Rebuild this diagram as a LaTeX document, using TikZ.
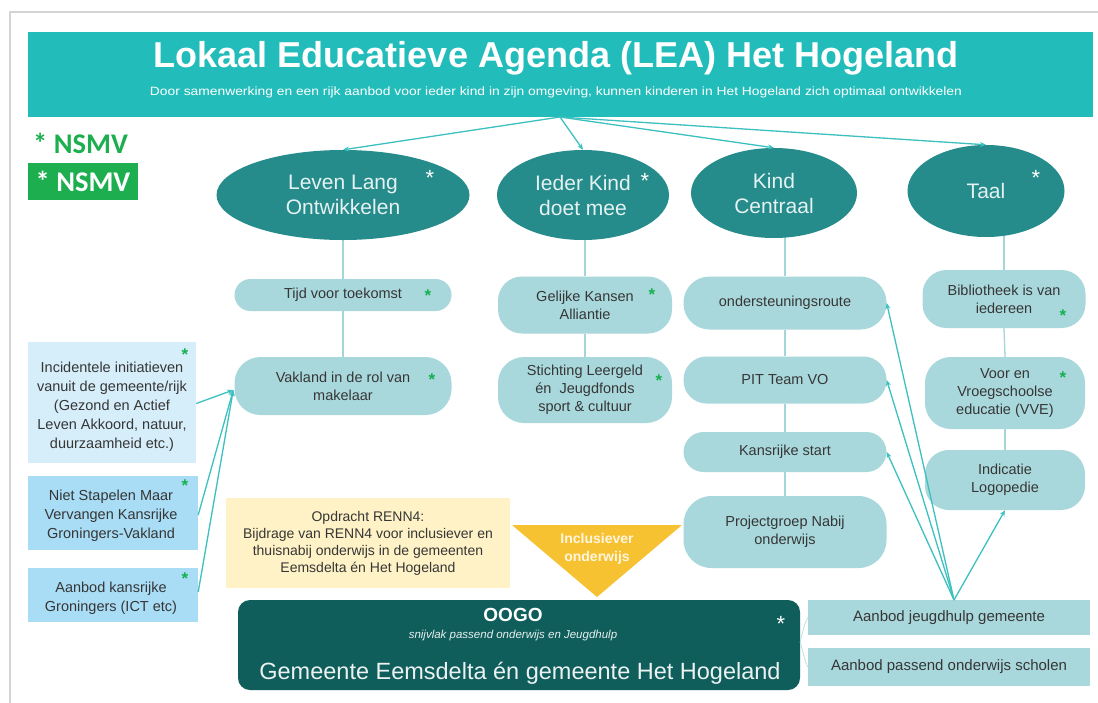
\documentclass[tikz,border=0pt]{standalone}
\usepackage{fontspec}
\setmainfont{Liberation Sans}
\newfontfamily\legendfont{Carlito}
\usetikzlibrary{shapes.geometric,arrows.meta,calc}
\definecolor{titlebar}{HTML}{22BDBA}
\definecolor{ellfill}{HTML}{268B8B}
\definecolor{elltext}{HTML}{E4F2F2}
\definecolor{boxfill}{HTML}{A9D8DC}
\definecolor{boxtext}{HTML}{363636}
\definecolor{starg}{HTML}{14B050}
\definecolor{legendg}{HTML}{1DAE4F}
\definecolor{linec}{HTML}{3CC0C0}
\definecolor{vlinec}{HTML}{A3D6D9}
\definecolor{paleblue}{HTML}{D6EEFA}
\definecolor{midblue}{HTML}{A9DCF5}
\definecolor{paleyellow}{HTML}{FFF2C6}
\definecolor{triyellow}{HTML}{F7C232}
\definecolor{oogo}{HTML}{0F5E5B}
\definecolor{framegray}{HTML}{D4D4D4}
\pgfdeclarelayer{bottom}
\pgfdeclarelayer{background}
\pgfsetlayers{bottom,background,main}
\begin{document}
\begin{tikzpicture}[x=1pt,y=-1pt,
  ell/.style={ellipse, fill=ellfill, draw=none, inner sep=0pt, text=elltext, align=center, font=\fontsize{21}{25}\selectfont},
  lbox/.style={fill=boxfill, draw=none, inner sep=0pt, align=center, text=boxtext, font=\fontsize{14.5}{18}\selectfont},
  sbox/.style={draw=none, inner sep=0pt, align=center, text=boxtext, font=\fontsize{14.5}{19}\selectfont},
  gstar/.style={text=starg, inner sep=0pt, font=\fontsize{17}{17}\selectfont\bfseries},
  wstar/.style={text=white, inner sep=0pt, font=\fontsize{22}{22}\selectfont},
  conn/.style={draw=linec, line width=1.3pt, -{Stealth[length=6pt,width=5pt]}},
  vline/.style={draw=vlinec, line width=1.3pt},
  plain/.style={inner sep=0pt, align=center}
]
\useasboundingbox (0,0) rectangle (1098,702);
\begin{pgfonlayer}{bottom}
\fill[white] (0,0) rectangle (1098,702);
% card frame
\draw[framegray, line width=1.8pt] (10,720) -- (10,12) -- (1110,12);
\end{pgfonlayer}

% title bar
\node[fill=titlebar, minimum width=1065pt, minimum height=85pt, inner sep=0pt] (title) at (560.5,74.5) {};
\node[plain, text=white, font=\fontsize{36}{36}\selectfont\bfseries] (titletext) at (556,58) {Lokaal Educatieve Agenda (LEA) Het Hogeland};
\node[plain, text=white, font=\fontsize{12}{12}\selectfont] (subtitle) at (556,92) {\resizebox{812pt}{\height}{Door samenwerking en een rijk aanbod voor ieder kind in zijn omgeving, kunnen kinderen in Het Hogeland zich optimaal ontwikkelen}};
\coordinate (T) at (560,117);

% legend
\node[plain, text=legendg, font=\legendfont\fontsize{28.5}{28}\selectfont\bfseries, anchor=west] (leg1) at (33,143) {* NSMV};
\node[fill=legendg, text=white, font=\legendfont\fontsize{28.5}{28}\selectfont\bfseries, minimum width=110pt, minimum height=37pt, inner sep=0pt] (leg2) at (83,181.5) {* NSMV};

% ellipses
\node[ell, minimum width=253pt, minimum height=90pt] (E1) at (343,195) {Leven Lang\\Ontwikkelen};
\node[ell, minimum width=172pt, minimum height=90pt] (E2) at (583,195) {Ieder Kind\\doet mee};
\node[ell, minimum width=166pt, minimum height=90pt] (E3) at (774,193) {Kind\\Centraal};
\node[ell, minimum width=157pt, minimum height=92pt] (E4) at (986,191) {Taal};
\node[wstar] (s1) at (430,178) {*};
\node[wstar] (s2) at (645,181) {*};
\node[wstar] (s4) at (1036,178) {*};

\draw[conn] (T) -- (E1.north);
\draw[conn] (T) -- (E2.north);
\draw[conn] (T) -- (E3.north);
\draw[conn] (T) -- (E4.north);

% column 1
\node[lbox, minimum width=217pt, minimum height=32pt, rounded corners=16pt] (B1a) at (343,295) {Tijd voor toekomst};
\node[lbox, minimum width=217pt, minimum height=58pt, rounded corners=26pt] (B1b) at (343,386) {Vakland in de rol van\\makelaar};
\node[gstar] (g1a) at (428,296) {*};
\node[gstar] (g1b) at (432,380) {*};
% column 2
\node[lbox, minimum width=174pt, minimum height=57pt, rounded corners=24pt] (B2a) at (585,305) {Gelijke Kansen\\Alliantie};
\node[lbox, minimum width=174pt, minimum height=66pt, rounded corners=26pt] (B2b) at (585,390) {Stichting Leergeld\\én\ \ Jeugdfonds\\sport \& cultuur};
\node[gstar] (g2a) at (652,295) {*};
\node[gstar] (g2b) at (659,381) {*};
% column 3
\node[lbox, minimum width=203pt, minimum height=53pt, rounded corners=26pt] (B3a) at (785,303) {ondersteuningsroute};
\node[lbox, minimum width=203pt, minimum height=47pt, rounded corners=23pt] (B3b) at (785,380) {PIT Team VO};
\node[lbox, minimum width=203pt, minimum height=40pt, rounded corners=20pt] (B3c) at (785,452) {Kansrijke start};
\node[lbox, minimum width=203pt, minimum height=72pt, rounded corners=28pt] (B3d) at (785,532) {Projectgroep Nabij\\onderwijs};
% column 4
\node[lbox, minimum width=163pt, minimum height=58pt, rounded corners=24pt] (B4a) at (1004,299) {Bibliotheek is van\\iedereen};
\node[lbox, minimum width=160pt, minimum height=72pt, rounded corners=26pt] (B4b) at (1005,393) {Voor en\\Vroegschoolse\\educatie (VVE)};
\node[lbox, minimum width=160pt, minimum height=60pt, rounded corners=24pt] (B4c) at (1005,480) {Indicatie\\Logopedie};
\node[gstar] (g4a) at (1063,316) {*};
\node[gstar] (g4b) at (1063,378) {*};

% vertical links (behind the shapes)
\begin{pgfonlayer}{background}
\draw[vline] (B1a.north) -- (B1a.north |- E1.center);
\draw[vline] (B1a.south) -- (B1b.north);
\draw[vline] (B2a.north) -- (B2a.north |- E2.center);
\draw[vline] (B2a.south) -- (B2b.north);
\draw[vline] (B3a.north) -- (B3a.north |- E3.center);
\draw[vline] (B3a.south) -- (B3b.north);
\draw[vline] (B3b.south) -- (B3c.north);
\draw[vline] (B3c.south) -- (B3d.north);
\draw[vline] (B4a.north) -- (B4a.north |- E4.center);
\draw[vline] (B4a.south) -- (B4b.north);
\draw[vline] (B4b.south) -- (B4c.north);
\end{pgfonlayer}

% left boxes
\node[fill=paleblue, minimum width=168pt, minimum height=121pt, inner sep=0pt] (L1) at (112,402.5) {};
\node[sbox] (L1t) at (112,407) {Incidentele initiatieven\\vanuit de gemeente/rijk\\(Gezond en Actief\\Leven Akkoord, natuur,\\duurzaamheid etc.)};
\node[fill=midblue, minimum width=170pt, minimum height=74pt, inner sep=0pt] (L2) at (113,513) {};
\node[sbox] (L2t) at (111,516) {Niet Stapelen Maar\\Vervangen Kansrijke\\Groningers-Vakland};
\node[fill=midblue, minimum width=170pt, minimum height=54pt, inner sep=0pt] (L3) at (113,595) {};
\node[sbox] (L3t) at (111,598) {Aanbod kansrijke\\Groningers (ICT etc)};
\node[gstar] (gl1) at (185,355) {*};
\node[gstar] (gl2) at (185,486) {*};
\node[gstar] (gl3) at (185,579) {*};
\coordinate (VK) at ($(B1b.west)+(-1,4)$);
\draw[conn] ($(L1.east)+(0,1)$) -- (VK);
\draw[conn] ($(L2.east)+(0,2)$) -- (VK);
\draw[conn] ($(L3.east)+(0,-3)$) -- (VK);

% yellow box and triangle
\node[fill=paleyellow, text=boxtext, align=center, inner sep=0pt, minimum width=284pt, minimum height=90pt, font=\fontsize{14}{17}\selectfont] (Y) at (368,543) {Opdracht RENN4:\\Bijdrage van RENN4 voor inclusiever en\\thuisnabij onderwijs in de gemeenten\\Eemsdelta én Het Hogeland};
\fill[triyellow] (512,525) -- (682,525) -- (597,597) -- cycle;
\node[plain, text=white!85!triyellow, font=\fontsize{14}{18}\selectfont\bfseries] (tri) at (597,549) {Inclusiever\\onderwijs};

% OOGO
\node[fill=oogo, rounded corners=12pt, minimum width=562pt, minimum height=90pt, inner sep=0pt] (O) at (519,645) {};
\node[plain, text=white, font=\fontsize{19}{19}\selectfont\bfseries] (Ot1) at (513,615) {OOGO};
\node[plain, text=white!90!oogo, font=\fontsize{11.5}{12}\selectfont\itshape] (Ot2) at (513,636) {snijvlak passend onderwijs en Jeugdhulp};
\node[plain, text=white!92!oogo, font=\fontsize{23.5}{24}\selectfont] (Ot3) at (520,673) {Gemeente Eemsdelta én gemeente Het Hogeland};
\node[wstar] (so) at (781,624) {*};

% right boxes
\node[fill=boxfill, text=boxtext, inner sep=0pt, minimum width=282pt, minimum height=35pt, font=\fontsize{15}{18}\selectfont] (R1) at (949,617.5) {Aanbod jeugdhulp gemeente};
\node[fill=boxfill, text=boxtext, inner sep=0pt, minimum width=282pt, minimum height=38pt, font=\fontsize{15}{18}\selectfont] (R2) at (949,667) {Aanbod passend onderwijs scholen};
\draw[vlinec!70, line width=0.8pt] ($(O.east)+(0,-3)$) .. controls (803,630) and (805,622) .. (R1.west);
\draw[vlinec!70, line width=0.8pt] ($(O.east)+(0,-3)$) .. controls (803,652) and (805,662) .. (R2.west);

% arrows from Aanbod jeugdhulp
\coordinate (C) at (954,600);
\draw[conn] (C) -- (B3a.east);
\draw[conn] (C) -- (B3b.east);
\draw[conn] (C) -- (B3c.east);
\draw[conn] (C) -- (B4c.south);
\end{tikzpicture}
\end{document}
